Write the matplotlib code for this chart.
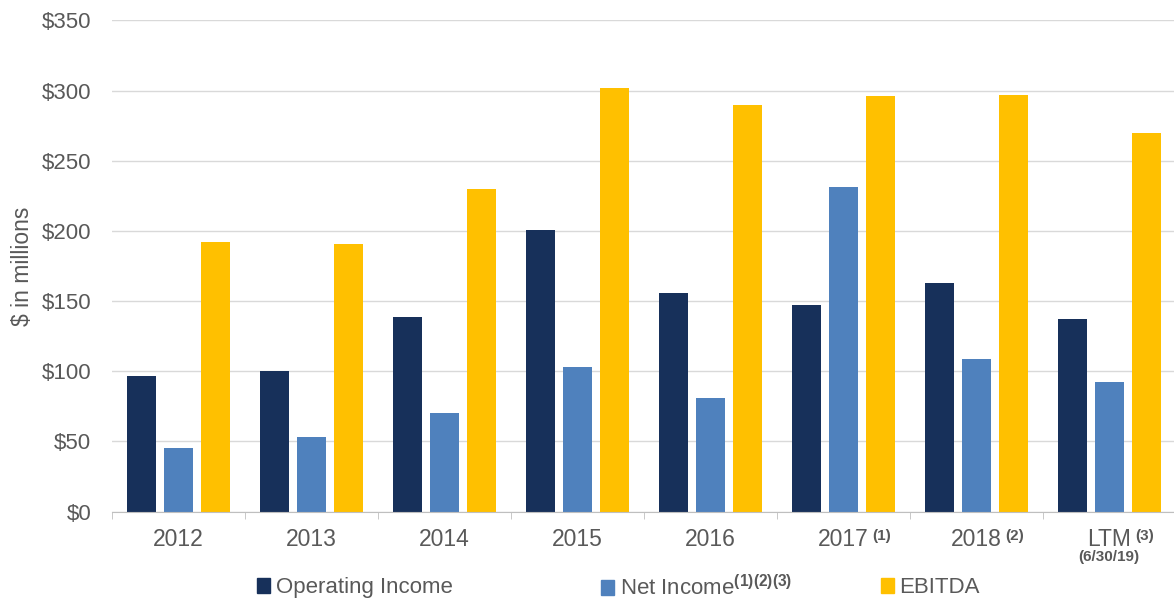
import numpy as np
import matplotlib
matplotlib.use("Agg")
import matplotlib.pyplot as plt
from matplotlib.patches import Patch

plt.rcParams["font.family"] = ["Liberation Sans", "DejaVu Sans"]
plt.rcParams["mathtext.fontset"] = "custom"
plt.rcParams["mathtext.rm"] = "Liberation Sans"
plt.rcParams["mathtext.bf"] = "Liberation Sans:bold"

categories = ["2012", "2013", "2014", "2015", "2016", "2017", "2018", "LTM"]
footnotes = ["", "", "", "", "", "(1)", "(2)", "(3)"]
operating_income = [97, 100, 139, 201, 156, 147, 163, 137]
net_income = [45.5, 53, 70.5, 103, 81, 231, 108.5, 92.5]
ebitda = [192, 191, 230, 302, 290, 296, 297, 270]
yticks = [0, 50, 100, 150, 200, 250, 300, 350]

C_OI = "#17305A"
C_NI = "#4F81BD"
C_EB = "#FFC000"
TEXT = "#595959"

fig = plt.figure(figsize=(11.74, 6.01), dpi=100)
ax = fig.add_axes([0.0954, 0.1486, 0.906, 0.8176])

x = np.arange(len(categories))
step, w = 0.278, 0.218
series = [(operating_income, C_OI, "Operating Income"),
          (net_income, C_NI, r"Net Income$^{\mathbf{(1)(2)(3)}}$"),
          (ebitda, C_EB, "EBITDA")]
for k, (vals, color, _) in enumerate(series):
    ax.bar(x + (k - 1) * step, vals, width=w, color=color, zorder=3)

ax.set_xlim(-0.5, len(categories) - 0.5)
ax.set_ylim(0, 350)
ax.set_yticks(yticks)
ax.set_yticklabels([f"${v}" for v in yticks], fontsize=16, color=TEXT)
ax.tick_params(axis="y", length=0, pad=15)
ax.grid(axis="y", color="#D9D9D9", lw=1.0, zorder=0)

ax.set_xticks(x)
ax.set_xticklabels(categories, fontsize=16.5, color=TEXT)
ax.tick_params(axis="x", which="major", length=0, pad=12)
ax.set_xticks(np.arange(len(categories) + 1) - 0.5, minor=True)
ax.tick_params(axis="x", which="minor", length=5, color="#BFBFBF", direction="out")

for s in ("top", "right", "left"):
    ax.spines[s].set_visible(False)
ax.spines["bottom"].set_color("#BFBFBF")
ax.spines["bottom"].set_zorder(4)

ax.set_ylabel("$ in millions", fontsize=16.5, color=TEXT)
ax.yaxis.set_label_coords(-0.073, 0.5)

# superscript notes next to tick labels
fig.canvas.draw()
renderer = fig.canvas.get_renderer()
W, H = fig.bbox.width, fig.bbox.height
for lbl, note in zip(ax.get_xticklabels(), footnotes):
    if not note:
        continue
    bb = lbl.get_window_extent(renderer)
    fig.text((bb.x1 + 4) / W, (bb.y1 - 1) / H, note,
             fontsize=11, fontweight="bold", color=TEXT, ha="left", va="top")
    if lbl.get_text() == "LTM":
        cx = (bb.x0 + bb.x1) / 2
        fig.text(cx / W, (bb.y0 + 1) / H, "(6/30/19)",
                 fontsize=11, fontweight="bold", color=TEXT, ha="center", va="top")

# legend entries spread along the bottom
legend_x = [0.219, 0.512, 0.750]
for (vals, color, name), lx in zip(series, legend_x):
    leg = fig.legend(handles=[Patch(color=color, label=name)], loc="center left",
                     bbox_to_anchor=(lx, 0.022), frameon=False, fontsize=16,
                     handlelength=0.6, handleheight=0.6, handletextpad=0.25,
                     borderaxespad=0, borderpad=0)
    for t in leg.get_texts():
        t.set_color(TEXT)

fig.savefig("out.png", dpi=100, facecolor="white")
